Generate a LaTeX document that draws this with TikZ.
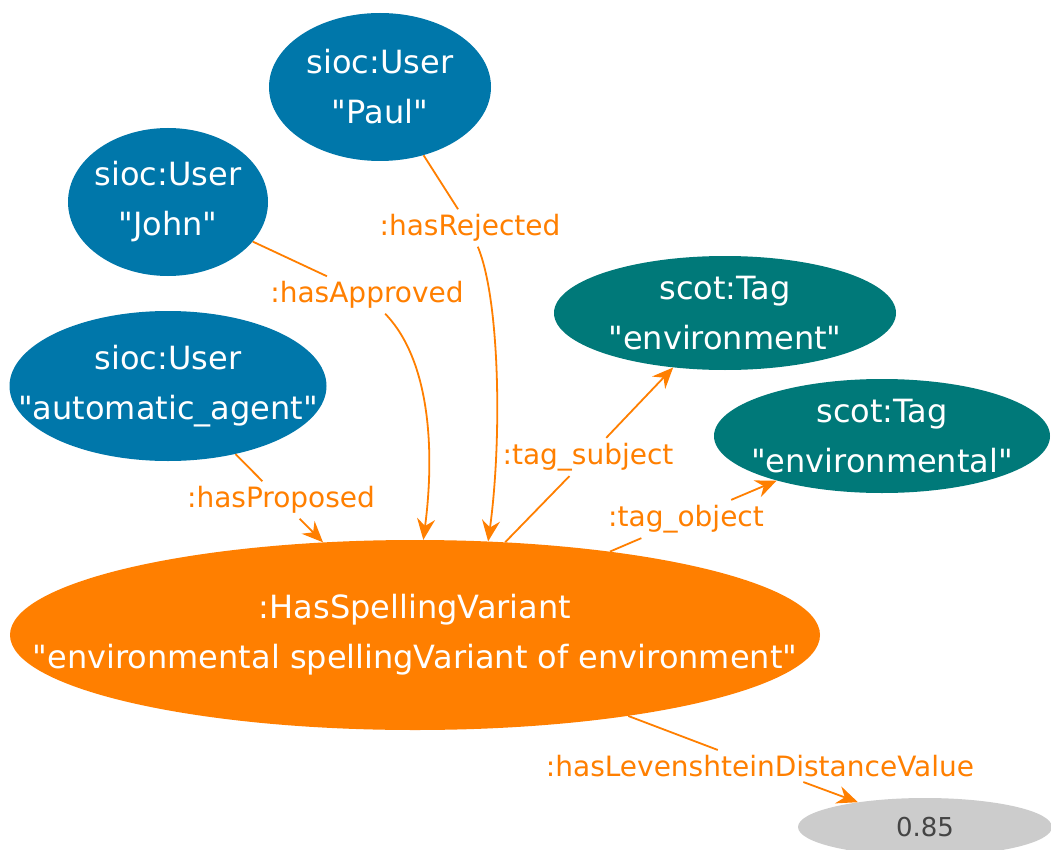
\documentclass[tikz,border=0pt]{standalone}
\usepackage{fontspec}
\setmainfont{DejaVu Sans}
\usetikzlibrary{shapes.geometric,arrows.meta}
\definecolor{userblue}{RGB}{0,119,170}
\definecolor{tagteal}{RGB}{0,121,121}
\definecolor{relorange}{RGB}{255,127,0}
\definecolor{litgray}{RGB}{204,204,204}
\definecolor{littext}{RGB}{68,68,68}
\newcommand{\dq}{\textquotedbl}
\begin{document}
\begin{tikzpicture}[x=1pt,y=-1pt,
  ent/.style={ellipse, inner sep=0pt, draw=none},
  user/.style={ent, fill=userblue},
  tag/.style={ent, fill=tagteal},
  stmt/.style={ent, fill=relorange},
  lit/.style={ent, fill=litgray},
  ntext/.style={text=white, align=center, font=\fontsize{32}{50}\selectfont, inner sep=0pt},
  elabel/.style={text=relorange, font=\fontsize{28}{34}\selectfont, inner sep=5pt},
  conn/.style={draw=relorange, line width=1.8pt},
  arr/.style={conn, -{Stealth[length=21pt,width=18pt,inset=7pt]}},
]
\useasboundingbox[fill=white] (0,0) rectangle (1051,850);

% entity ellipses
\node[user, minimum width=222pt, minimum height=148pt] (paul) at (380,87) {};
\node[user, minimum width=200pt, minimum height=148pt] (john) at (168,202) {};
\node[user, minimum width=317pt, minimum height=150pt] (agent) at (168,386) {};
\node[tag, minimum width=342pt, minimum height=114pt] (env) at (725,313) {};
\node[tag, minimum width=336pt, minimum height=114pt] (envl) at (882,436) {};
\node[stmt, minimum width=810pt, minimum height=190pt] (has) at (415,635) {};
\node[lit, minimum width=254pt, minimum height=58pt] (lit) at (925,827) {};

% entity texts
\node[ntext] (paulT) at (paul) {sioc:User\\\dq Paul\dq};
\node[ntext] (johnT) at (john) {sioc:User\\\dq John\dq};
\node[ntext] (agentT) at (agent) {sioc:User\\\dq automatic\_agent\dq};
\node[ntext] (envT) at (env) {scot:Tag\\\dq environment\dq};
\node[ntext] (envlT) at (envl) {scot:Tag\\\dq environmental\dq};
\node[ntext] (hasT) at (has) {:HasSpellingVariant\\\dq environmental spellingVariant of environment\dq};
\node[text=littext, font=\fontsize{26}{30}\selectfont, inner sep=0pt] (litT) at (lit) {0.85};

% edge labels
\node[elabel] (lRej) at (470,228) {:hasRejected};
\node[elabel] (lApp) at (367,295) {:hasApproved};
\node[elabel] (lProp) at (281,500) {:hasProposed};
\node[elabel] (lSub) at (588,457) {:tag\_subject};
\node[elabel] (lObj) at (686,519) {:tag\_object};
\node[elabel] (lLev) at (760,766) {:hasLevenshteinDistanceValue};

% connectors
\draw[conn] (paul) -- (lRej);
\draw[arr] (lRej) .. controls (500,300) and (502,440) .. (has.52.8);
\draw[conn] (john) -- (lApp);
\draw[arr] (lApp) .. controls (430,360) and (435,450) .. (has.85.2);
\draw[conn] (agent) -- (lProp);
\draw[arr] (lProp) -- (has);
\draw[conn] (has) -- (lSub);
\draw[arr] (lSub) -- (env);
\draw[conn] (has) -- (lObj);
\draw[arr] (lObj) -- (envl);
\draw[conn] (has) -- (lLev);
\draw[arr] (lLev) -- (lit);
\end{tikzpicture}
\end{document}
